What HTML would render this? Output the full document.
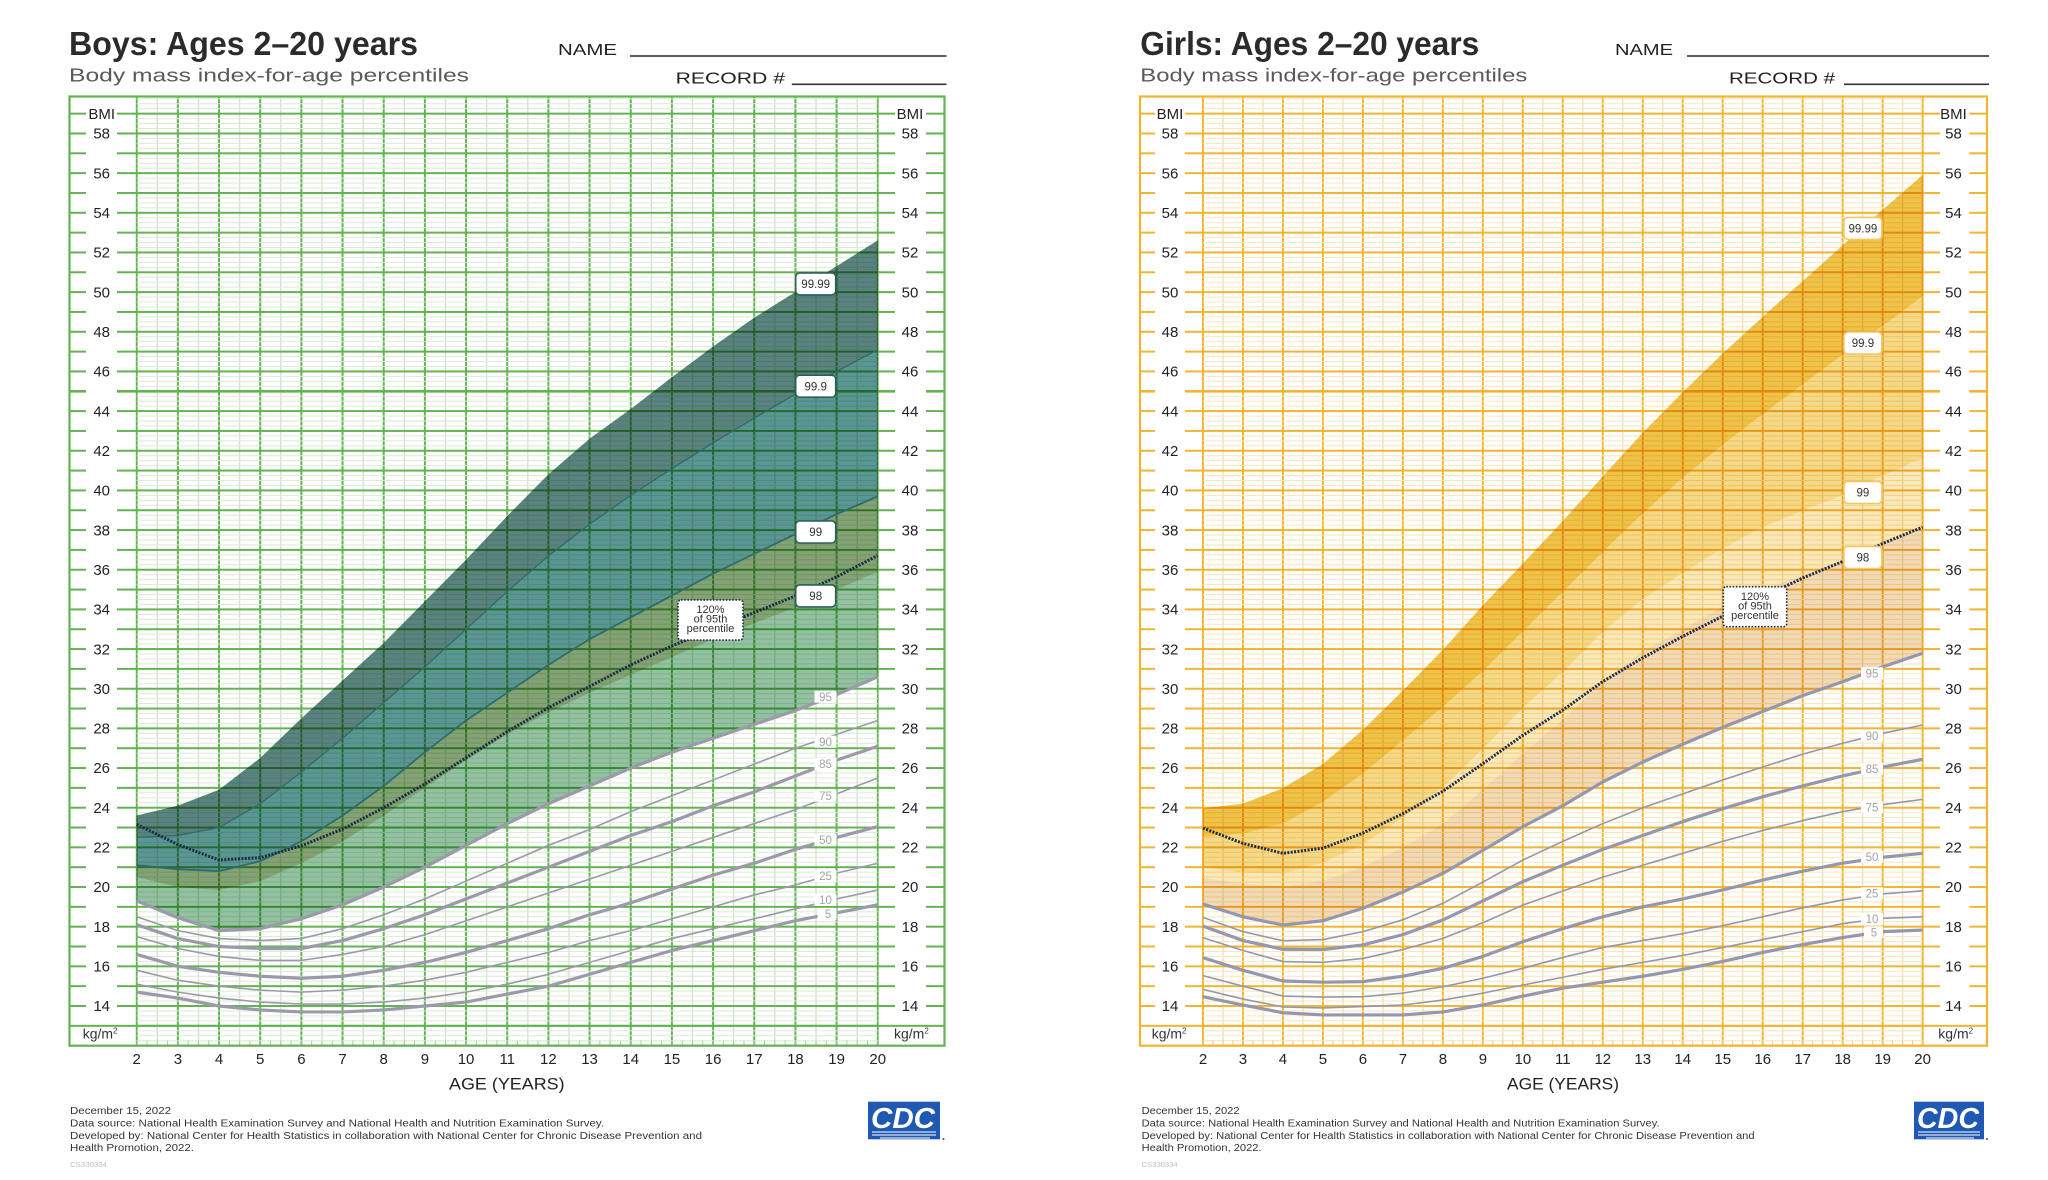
<!DOCTYPE html>
<html><head><meta charset="utf-8"><title>BMI-for-age percentiles</title>
<style>html,body{margin:0;padding:0;background:#fff;overflow:hidden}svg{display:block}</style></head>
<body>
<svg xmlns="http://www.w3.org/2000/svg" width="2048" height="1180" viewBox="0 0 2048 1180" font-family="'Liberation Sans', Arial, sans-serif">
<defs>
  <pattern id="bv" patternUnits="userSpaceOnUse" x="135.7" y="0" width="41.17" height="40">
    <rect x="0" y="0" width="2" height="40" fill="#62b450"/>
    <rect x="20.99" y="0" width="1.2" height="40" fill="#cddfc6"/>
  </pattern>
  <pattern id="bh" patternUnits="userSpaceOnUse" x="0" y="1005" width="40" height="19.83">
    <rect x="0" y="0" width="40" height="2" fill="#62b450"/>
    <rect x="0" y="5.46" width="40" height="1" fill="#dde9d8"/>
    <rect x="0" y="10.42" width="40" height="1" fill="#dde9d8"/>
    <rect x="0" y="15.37" width="40" height="1" fill="#dde9d8"/>
  </pattern>
  <pattern id="bm" patternUnits="userSpaceOnUse" x="0" y="1005" width="40" height="19.83">
    <rect x="0" y="0" width="40" height="2" fill="#62b450"/>
  </pattern>
  <pattern id="bt" patternUnits="userSpaceOnUse" x="136.2" y="1040.5" width="10.2925" height="5.2">
    <rect x="0" y="0" width="1" height="5.2" fill="#a9c9a0"/>
  </pattern>
  <pattern id="gv" patternUnits="userSpaceOnUse" x="1202" y="0" width="39.98" height="40">
    <rect x="0" y="0" width="2" height="40" fill="#f2b431"/>
    <rect x="20.39" y="0" width="1.2" height="40" fill="#ecdcb2"/>
  </pattern>
  <pattern id="gh" patternUnits="userSpaceOnUse" x="0" y="1005" width="40" height="19.83">
    <rect x="0" y="0" width="40" height="2" fill="#f2b431"/>
    <rect x="0" y="5.46" width="40" height="1" fill="#f6e7bb"/>
    <rect x="0" y="10.42" width="40" height="1" fill="#f6e7bb"/>
    <rect x="0" y="15.37" width="40" height="1" fill="#f6e7bb"/>
  </pattern>
  <pattern id="gm" patternUnits="userSpaceOnUse" x="0" y="1005" width="40" height="19.83">
    <rect x="0" y="0" width="40" height="2" fill="#f2b431"/>
  </pattern>
  <pattern id="gt" patternUnits="userSpaceOnUse" x="1202.5" y="1040.5" width="9.995" height="5.2">
    <rect x="0" y="0" width="1" height="5.2" fill="#e8c98a"/>
  </pattern>
</defs>

<rect width="2048" height="1180" fill="#fff"/>

<!-- ===== BANDS ===== -->
<g transform="matrix(41.17 0 0 -19.83 54.36 1283.62)">
  <polygon fill="#93c1a2" points="2,23.6 3,24.1 4,24.9 5,26.5 6,28.5 7,30.4 8,32.3 9,34.4 10,36.5 11,38.7 12,40.8 13,42.6 14,44.1 15,45.7 16,47.25 17,48.7 18,50 19,51.3 20,52.6 20,30.6 19,29.7 18,28.9 17,28.2 16,27.5 15,26.8 14,26 13,25.1 12,24.2 11,23.2 10,22.1 9,21 8,20 7,19.1 6,18.4 5,17.9 4,17.8 3,18.45 2,19.3"/>
  <polygon fill="#83a275" points="2,23.6 3,24.1 4,24.9 5,26.5 6,28.5 7,30.4 8,32.3 9,34.4 10,36.5 11,38.7 12,40.8 13,42.6 14,44.1 15,45.7 16,47.25 17,48.7 18,50 19,51.3 20,52.6 20,35.9 19,35 18,34.1 17,33.3 16,32.5 15,31.6 14,30.7 13,29.8 12,28.8 11,27.7 10,26.4 9,25 8,23.6 7,22.3 6,21.2 5,20.3 4,19.85 3,20 2,20.5"/>
  <polygon fill="#5a9694" points="2,23.6 3,24.1 4,24.9 5,26.5 6,28.5 7,30.4 8,32.3 9,34.4 10,36.5 11,38.7 12,40.8 13,42.6 14,44.1 15,45.7 16,47.25 17,48.7 18,50 19,51.3 20,52.6 20,39.7 19,38.8 18,37.8 17,36.8 16,35.8 15,34.7 14,33.6 13,32.5 12,31.2 11,29.8 10,28.4 9,26.8 8,25.1 7,23.6 6,22.3 5,21.3 4,20.8 3,20.9 2,21.1"/>
  <polygon fill="#5a8380" points="2,23.6 3,24.1 4,24.9 5,26.5 6,28.5 7,30.4 8,32.3 9,34.4 10,36.5 11,38.7 12,40.8 13,42.6 14,44.1 15,45.7 16,47.25 17,48.7 18,50 19,51.3 20,52.6 20,47.1 19,46 18,44.85 17,43.65 16,42.4 15,41.1 14,39.75 13,38.3 12,36.7 11,34.9 10,33 9,31.1 8,29.3 7,27.5 6,25.8 5,24.2 4,23 3,22.6 2,22.5"/>
</g>
<g transform="matrix(39.98 0 0 -19.83 1123.04 1283.62)">
  <polygon fill="#f2dab6" points="2,23.97 3,24.2 4,24.98 5,26.2 6,27.92 7,29.9 8,31.95 9,34.2 10,36.3 11,38.45 12,40.7 13,42.9 14,44.95 15,46.9 16,48.75 17,50.55 18,52.35 19,54.15 20,55.9 20,31.79 19,31.1 18,30.35 17,29.65 16,28.85 15,28.05 14,27.2 13,26.3 12,25.3 11,24.1 10,23.04 9,21.85 8,20.69 7,19.75 6,18.93 5,18.3 4,18.08 3,18.5 2,19.14"/>
  <polygon fill="#fae8b9" points="2,23.97 3,24.2 4,24.98 5,26.2 6,27.92 7,29.9 8,31.95 9,34.2 10,36.3 11,38.45 12,40.7 13,42.9 14,44.95 15,46.9 16,48.75 17,50.55 18,52.35 19,54.15 20,55.9 20,38.15 19,37.32 18,36.42 17,35.73 16,34.97 15,34.14 14,32.99 13,31.88 12,30.36 11,28.44 10,26.73 9,24.91 8,23.17 7,22.02 6,21.01 5,20.31 4,20.01 3,20.17 2,20.44"/>
  <polygon fill="#f6d987" points="2,23.97 3,24.2 4,24.98 5,26.2 6,27.92 7,29.9 8,31.95 9,34.2 10,36.3 11,38.45 12,40.7 13,42.9 14,44.95 15,46.9 16,48.75 17,50.55 18,52.35 19,54.15 20,55.9 20,41.64 19,40.74 18,39.76 17,38.99 16,38.15 15,37.09 14,35.84 13,34.52 12,32.89 11,30.85 10,29.03 9,26.98 8,25.03 7,23.5 6,22.15 5,21.23 4,20.68 3,20.72 2,21.02"/>
  <polygon fill="#efc248" points="2,23.97 3,24.2 4,24.98 5,26.2 6,27.92 7,29.9 8,31.95 9,34.2 10,36.3 11,38.45 12,40.7 13,42.9 14,44.95 15,46.9 16,48.75 17,50.55 18,52.35 19,54.15 20,55.9 20,49.8 19,48.3 18,46.85 17,45.35 16,43.85 15,42.3 14,40.65 13,38.85 12,36.9 11,34.9 10,32.9 9,30.9 8,29.09 7,27.4 6,25.73 5,24.3 4,23.21 3,22.7 2,22.54"/>
</g>

<!-- ===== GRIDS ===== -->
<g style="mix-blend-mode:multiply">
  <rect x="135.7" y="96.5" width="743.1" height="949.2" fill="url(#bv)"/>
  <rect x="136.7" y="96.5" width="741.06" height="949.2" fill="url(#bh)"/>
  <rect x="136.2" y="1040.5" width="742" height="5.2" fill="url(#bt)"/>
  <rect x="69.5" y="112" width="16.5" height="896" fill="url(#bm)"/>
  <rect x="117" y="112" width="19.7" height="896" fill="url(#bm)"/>
  <rect x="877.7" y="112" width="17.3" height="896" fill="url(#bm)"/>
  <rect x="926" y="112" width="18.5" height="896" fill="url(#bm)"/>
  <rect x="69.5" y="1024.83" width="875" height="2" fill="#62b450"/>
  <rect x="69.5" y="390" width="16.5" height="2.6" fill="#62b450"/>
  <rect x="117" y="390" width="778" height="2.6" fill="#62b450"/>
  <rect x="926" y="390" width="18.5" height="2.6" fill="#62b450"/>
  <rect x="69.5" y="96.5" width="875" height="949.2" fill="none" stroke="#62b450" stroke-width="2.2"/>
  <rect x="1202" y="96.5" width="722.64" height="949.2" fill="url(#gv)"/>
  <rect x="1203" y="96.5" width="719.64" height="949.2" fill="url(#gh)"/>
  <rect x="1202.5" y="1040.5" width="721" height="5.2" fill="url(#gt)"/>
  <rect x="1140" y="112" width="15" height="896" fill="url(#gm)"/>
  <rect x="1185" y="112" width="18" height="896" fill="url(#gm)"/>
  <rect x="1922.6" y="112" width="17.4" height="896" fill="url(#gm)"/>
  <rect x="1969.3" y="112" width="17.7" height="896" fill="url(#gm)"/>
  <rect x="1140" y="1024.83" width="847" height="2" fill="#f2b431"/>
  <rect x="1140" y="390" width="15" height="2.6" fill="#f2b431"/>
  <rect x="1185" y="390" width="755" height="2.6" fill="#f2b431"/>
  <rect x="1969.3" y="390" width="17.7" height="2.6" fill="#f2b431"/>
  <rect x="1140" y="96.5" width="847" height="949.2" fill="none" stroke="#f2b431" stroke-width="2.2"/>
</g>

<!-- ===== PERCENTILE LINES ===== -->
<g transform="matrix(41.17 0 0 -19.83 54.36 1283.62)" fill="none" stroke-linejoin="round">
  <polyline vector-effect="non-scaling-stroke" stroke="#2f6c69" stroke-width="1.3" points="2,22.5 3,22.6 4,23 5,24.2 6,25.8 7,27.5 8,29.3 9,31.1 10,33 11,34.9 12,36.7 13,38.3 14,39.75 15,41.1 16,42.4 17,43.65 18,44.85 19,46 20,47.1"/>
  <polyline vector-effect="non-scaling-stroke" stroke="#2f6c69" stroke-width="1.8" points="2,21.1 3,20.9 4,20.8 5,21.3 6,22.3 7,23.6 8,25.1 9,26.8 10,28.4 11,29.8 12,31.2 13,32.5 14,33.6 15,34.7 16,35.8 17,36.8 18,37.8 19,38.8 20,39.7"/>
  <g stroke="#9c99ab">
    <polyline vector-effect="non-scaling-stroke" stroke-width="3.2" points="2,19.3 3,18.45 4,17.8 5,17.9 6,18.4 7,19.1 8,20 9,21 10,22.1 11,23.2 12,24.2 13,25.1 14,26 15,26.8 16,27.5 17,28.2 18,28.9 19,29.7 20,30.6"/>
    <polyline vector-effect="non-scaling-stroke" stroke-width="1.6" points="2,18.5 3,17.8 4,17.4 5,17.3 6,17.4 7,17.9 8,18.6 9,19.4 10,20.3 11,21.2 12,22.1 13,22.9 14,23.8 15,24.6 16,25.4 17,26.2 18,27 19,27.7 20,28.4"/>
    <polyline vector-effect="non-scaling-stroke" stroke-width="3.2" points="2,18.1 3,17.4 4,17 5,16.9 6,16.9 7,17.3 8,17.9 9,18.6 10,19.4 11,20.2 12,21 13,21.8 14,22.6 15,23.3 16,24.1 17,24.8 18,25.6 19,26.4 20,27.1"/>
    <polyline vector-effect="non-scaling-stroke" stroke-width="1.6" points="2,17.5 3,16.9 4,16.5 5,16.3 6,16.3 7,16.6 8,17 9,17.6 10,18.3 11,19 12,19.7 13,20.4 14,21.1 15,21.8 16,22.5 17,23.2 18,23.9 19,24.7 20,25.5"/>
    <polyline vector-effect="non-scaling-stroke" stroke-width="3.2" points="2,16.6 3,16 4,15.7 5,15.5 6,15.4 7,15.5 8,15.8 9,16.2 10,16.7 11,17.3 12,17.9 13,18.6 14,19.2 15,19.9 16,20.6 17,21.2 18,21.9 19,22.5 20,23.05"/>
    <polyline vector-effect="non-scaling-stroke" stroke-width="1.6" points="2,15.8 3,15.3 4,15 5,14.8 6,14.7 7,14.8 8,15 9,15.3 10,15.7 11,16.2 12,16.7 13,17.3 14,17.8 15,18.4 16,19 17,19.6 18,20.1 19,20.7 20,21.2"/>
    <polyline vector-effect="non-scaling-stroke" stroke-width="1.6" points="2,15.1 3,14.7 4,14.4 5,14.2 6,14.1 7,14.1 8,14.2 9,14.4 10,14.7 11,15.1 12,15.6 13,16.2 14,16.8 15,17.4 16,17.9 17,18.4 18,18.9 19,19.4 20,19.85"/>
    <polyline vector-effect="non-scaling-stroke" stroke-width="3.2" points="2,14.7 3,14.4 4,14 5,13.8 6,13.7 7,13.7 8,13.8 9,14 10,14.2 11,14.6 12,15 13,15.6 14,16.2 15,16.8 16,17.3 17,17.8 18,18.3 19,18.7 20,19.1"/>
  </g>
</g>
<g transform="matrix(39.98 0 0 -19.83 1123.04 1283.62)" fill="none" stroke-linejoin="round" stroke="#9497ad">
  <polyline vector-effect="non-scaling-stroke" stroke-width="3.2" points="2,19.14 3,18.5 4,18.08 5,18.3 6,18.93 7,19.75 8,20.69 9,21.85 10,23.04 11,24.1 12,25.3 13,26.3 14,27.2 15,28.05 16,28.85 17,29.65 18,30.35 19,31.1 20,31.79"/>
  <polyline vector-effect="non-scaling-stroke" stroke-width="1.6" points="2,18.47 3,17.75 4,17.29 5,17.35 6,17.75 7,18.35 8,19.18 9,20.25 10,21.36 11,22.3 12,23.2 13,24 14,24.7 15,25.4 16,26.05 17,26.7 18,27.25 19,27.75 20,28.17"/>
  <polyline vector-effect="non-scaling-stroke" stroke-width="3.2" points="2,18.03 3,17.3 4,16.86 5,16.85 6,17.08 7,17.6 8,18.34 9,19.3 10,20.27 11,21.1 12,21.9 13,22.6 14,23.3 15,23.95 16,24.55 17,25.1 18,25.6 19,26.05 20,26.44"/>
  <polyline vector-effect="non-scaling-stroke" stroke-width="1.6" points="2,17.45 3,16.8 4,16.24 5,16.2 6,16.4 7,16.85 8,17.41 9,18.2 10,19.09 11,19.8 12,20.5 13,21.1 14,21.7 15,22.3 16,22.85 17,23.35 18,23.8 19,24.15 20,24.42"/>
  <polyline vector-effect="non-scaling-stroke" stroke-width="3.2" points="2,16.44 3,15.8 4,15.26 5,15.2 6,15.23 7,15.5 8,15.9 9,16.5 10,17.24 11,17.9 12,18.5 13,19 14,19.4 15,19.85 16,20.35 17,20.8 18,21.2 19,21.5 20,21.7"/>
  <polyline vector-effect="non-scaling-stroke" stroke-width="1.6" points="2,15.53 3,15 4,14.5 5,14.45 6,14.47 7,14.65 8,14.97 9,15.4 10,15.9 11,16.45 12,16.95 13,17.3 14,17.65 15,18.05 16,18.5 17,18.95 18,19.35 19,19.65 20,19.81"/>
  <polyline vector-effect="non-scaling-stroke" stroke-width="1.6" points="2,14.84 3,14.35 4,13.95 5,13.9 6,13.97 7,14.05 8,14.3 9,14.65 10,15.06 11,15.45 12,15.85 13,16.2 14,16.55 15,16.95 16,17.35 17,17.75 18,18.15 19,18.42 20,18.5"/>
  <polyline vector-effect="non-scaling-stroke" stroke-width="3.2" points="2,14.47 3,14.05 4,13.66 5,13.55 6,13.55 7,13.55 8,13.7 9,14.05 10,14.5 11,14.9 12,15.2 13,15.5 14,15.85 15,16.25 16,16.7 17,17.1 18,17.45 19,17.75 20,17.83"/>
</g>

<!-- dotted 120% of 95th -->
<polyline fill="none" stroke="#1c2b47" stroke-width="3" stroke-dasharray="2 1.4" stroke-linejoin="round" points="136.70,824.36 177.87,844.58 219.04,860.05 260.21,857.67 301.38,845.77 342.55,829.12 383.72,807.70 424.89,783.90 466.06,757.73 507.23,731.55 548.40,707.76 589.57,686.34 630.74,664.92 671.91,645.89 713.08,629.23 754.25,612.57 795.42,595.92 836.59,576.88 877.76,555.46"/>
<polyline fill="none" stroke="#1c2b47" stroke-width="3" stroke-dasharray="2 1.4" stroke-linejoin="round" points="1203.00,828.12 1242.98,843.39 1282.96,853.31 1322.94,848.15 1362.92,833.08 1402.90,813.65 1442.88,791.24 1482.86,763.68 1522.84,735.32 1562.82,710.14 1602.80,681.58 1642.78,657.79 1682.76,636.37 1722.74,616.14 1762.72,597.11 1802.70,578.07 1842.68,561.41 1882.66,543.56 1922.64,527.11"/>

<!-- ===== LOWER PERCENTILE LABELS ===== -->
<g font-size="11.5" fill="#a3a3a3" text-anchor="middle">
  <rect x="814.5" y="690.7" width="22" height="12" fill="#fff"/><text x="825.5" y="700.8">95</text>
  <rect x="814.5" y="735.7" width="22" height="12" fill="#fff"/><text x="825.5" y="745.8">90</text>
  <rect x="814.5" y="758" width="22" height="12" fill="#fff"/><text x="825.5" y="768.1">85</text>
  <rect x="814.5" y="789.7" width="22" height="12" fill="#fff"/><text x="825.5" y="799.8">75</text>
  <rect x="814.5" y="834" width="22" height="12" fill="#fff"/><text x="825.5" y="844.1">50</text>
  <rect x="814.5" y="870" width="22" height="12" fill="#fff"/><text x="825.5" y="880.1">25</text>
  <rect x="814.5" y="894" width="22" height="12" fill="#fff"/><text x="825.5" y="904.1">10</text>
  <rect x="817.5" y="908" width="19" height="12" fill="#fff"/><text x="828" y="918.1">5</text>

  <rect x="1861" y="667.3" width="22" height="12" fill="#fff"/><text x="1872" y="677.4">95</text>
  <rect x="1861" y="729.7" width="22" height="12" fill="#fff"/><text x="1872" y="739.8">90</text>
  <rect x="1861" y="763" width="22" height="12" fill="#fff"/><text x="1872" y="773.1">85</text>
  <rect x="1861" y="801.3" width="22" height="12" fill="#fff"/><text x="1872" y="811.4">75</text>
  <rect x="1861" y="850.7" width="22" height="12" fill="#fff"/><text x="1872" y="860.8">50</text>
  <rect x="1861" y="887.3" width="22" height="12" fill="#fff"/><text x="1872" y="897.4">25</text>
  <rect x="1861" y="913" width="22" height="12" fill="#fff"/><text x="1872" y="923.1">10</text>
  <rect x="1864" y="926.3" width="19" height="12" fill="#fff"/><text x="1874" y="936.4">5</text>
</g>

<!-- ===== UPPER LABEL BOXES ===== -->
<g font-size="11.5" fill="#333" text-anchor="middle">
  <rect x="795.7" y="272.9" width="40" height="22" rx="4" fill="#fff" stroke="#2c5f5c" stroke-width="1.6"/><text x="815.7" y="288">99.99</text>
  <rect x="795.7" y="375.2" width="40" height="22" rx="4" fill="#fff" stroke="#2c5f5c" stroke-width="1.6"/><text x="815.7" y="390.3">99.9</text>
  <rect x="795.7" y="521" width="40" height="22" rx="4" fill="#fff" stroke="#2c5f5c" stroke-width="1.6"/><text x="815.7" y="536.1">99</text>
  <rect x="795.7" y="584.9" width="40" height="22" rx="4" fill="#fff" stroke="#2c5f5c" stroke-width="1.6"/><text x="815.7" y="600">98</text>

  <rect x="1843.9" y="217.4" width="38" height="22" rx="4" fill="#fff" stroke="#f3c860" stroke-width="1.6"/><text x="1862.9" y="232.5">99.99</text>
  <rect x="1843.9" y="332" width="38" height="22" rx="4" fill="#fff" stroke="#f3c860" stroke-width="1.6"/><text x="1862.9" y="347.1">99.9</text>
  <rect x="1843.9" y="481.5" width="38" height="22" rx="4" fill="#fff" stroke="#f3c860" stroke-width="1.6"/><text x="1862.9" y="496.6">99</text>
  <rect x="1843.9" y="546.5" width="38" height="22" rx="4" fill="#fff" stroke="#f3c860" stroke-width="1.6"/><text x="1862.9" y="561.6">98</text>
</g>

<!-- 120% labels -->
<rect x="678" y="600" width="65" height="40" rx="3" fill="#fff" stroke="#1c2b47" stroke-width="1.6" stroke-dasharray="1.6 1.6"/>
<g font-size="11" fill="#333" text-anchor="middle">
  <text x="710.5" y="613">120%</text>
  <text x="710.5" y="622.5">of 95th</text>
  <text x="710.5" y="632">percentile</text>
</g>
<rect x="1723.3" y="586.7" width="63.4" height="40" rx="3" fill="#fff" stroke="#1c2b47" stroke-width="1.6" stroke-dasharray="1.6 1.6"/>
<g font-size="11" fill="#333" text-anchor="middle">
  <text x="1755" y="599.8">120%</text>
  <text x="1755" y="609.3">of 95th</text>
  <text x="1755" y="618.8">percentile</text>
</g>

<!-- ===== HEADERS ===== -->
<text x="69" y="55" font-family="'Liberation Sans Narrow','Liberation Sans',Arial,sans-serif" font-weight="bold" font-size="33" textLength="349" lengthAdjust="spacingAndGlyphs" fill="#2b2b2b">Boys: Ages 2–20 years</text>
<text x="69" y="81.5" font-size="18.5" textLength="400" lengthAdjust="spacingAndGlyphs" fill="#5a5a5a">Body mass index-for-age percentiles</text>
<text x="558" y="55" font-size="16" textLength="59" lengthAdjust="spacingAndGlyphs" fill="#222">NAME</text>
<rect x="630" y="55.2" width="316.5" height="1.6" fill="#333"/>
<text x="675.6" y="83.3" font-size="16" textLength="109.4" lengthAdjust="spacingAndGlyphs" fill="#222">RECORD #</text>
<rect x="791.8" y="83.5" width="154.7" height="1.6" fill="#333"/>

<text x="1140.3" y="55" font-family="'Liberation Sans Narrow','Liberation Sans',Arial,sans-serif" font-weight="bold" font-size="33" textLength="339" lengthAdjust="spacingAndGlyphs" fill="#2b2b2b">Girls: Ages 2–20 years</text>
<text x="1140.3" y="81.5" font-size="18.5" textLength="387" lengthAdjust="spacingAndGlyphs" fill="#5a5a5a">Body mass index-for-age percentiles</text>
<text x="1615" y="55" font-size="16" textLength="58" lengthAdjust="spacingAndGlyphs" fill="#222">NAME</text>
<rect x="1687" y="55.2" width="302" height="1.6" fill="#333"/>
<text x="1729" y="83.3" font-size="16" textLength="106" lengthAdjust="spacingAndGlyphs" fill="#222">RECORD #</text>
<rect x="1844" y="83.5" width="145" height="1.6" fill="#333"/>

<!-- ===== BMI AXIS LABELS ===== -->
<g font-size="15" fill="#222" text-anchor="middle">
  <text x="101.7" y="118.9">BMI</text>
  <text x="101.7" y="138.7">58</text><text x="101.7" y="178.3">56</text><text x="101.7" y="218">54</text><text x="101.7" y="257.7">52</text>
  <text x="101.7" y="297.3">50</text><text x="101.7" y="337">48</text><text x="101.7" y="376.6">46</text><text x="101.7" y="416.3">44</text>
  <text x="101.7" y="456">42</text><text x="101.7" y="495.6">40</text><text x="101.7" y="535.3">38</text><text x="101.7" y="574.9">36</text>
  <text x="101.7" y="614.6">34</text><text x="101.7" y="654.3">32</text><text x="101.7" y="693.9">30</text><text x="101.7" y="733.6">28</text>
  <text x="101.7" y="773.2">26</text><text x="101.7" y="812.9">24</text><text x="101.7" y="852.6">22</text><text x="101.7" y="892.2">20</text>
  <text x="101.7" y="931.9">18</text><text x="101.7" y="971.5">16</text><text x="101.7" y="1011.2">14</text>
  <text x="910" y="118.9">BMI</text>
  <text x="910" y="138.7">58</text><text x="910" y="178.3">56</text><text x="910" y="218">54</text><text x="910" y="257.7">52</text>
  <text x="910" y="297.3">50</text><text x="910" y="337">48</text><text x="910" y="376.6">46</text><text x="910" y="416.3">44</text>
  <text x="910" y="456">42</text><text x="910" y="495.6">40</text><text x="910" y="535.3">38</text><text x="910" y="574.9">36</text>
  <text x="910" y="614.6">34</text><text x="910" y="654.3">32</text><text x="910" y="693.9">30</text><text x="910" y="733.6">28</text>
  <text x="910" y="773.2">26</text><text x="910" y="812.9">24</text><text x="910" y="852.6">22</text><text x="910" y="892.2">20</text>
  <text x="910" y="931.9">18</text><text x="910" y="971.5">16</text><text x="910" y="1011.2">14</text>
  <text x="1170" y="118.9">BMI</text>
  <text x="1170" y="138.7">58</text><text x="1170" y="178.3">56</text><text x="1170" y="218">54</text><text x="1170" y="257.7">52</text>
  <text x="1170" y="297.3">50</text><text x="1170" y="337">48</text><text x="1170" y="376.6">46</text><text x="1170" y="416.3">44</text>
  <text x="1170" y="456">42</text><text x="1170" y="495.6">40</text><text x="1170" y="535.3">38</text><text x="1170" y="574.9">36</text>
  <text x="1170" y="614.6">34</text><text x="1170" y="654.3">32</text><text x="1170" y="693.9">30</text><text x="1170" y="733.6">28</text>
  <text x="1170" y="773.2">26</text><text x="1170" y="812.9">24</text><text x="1170" y="852.6">22</text><text x="1170" y="892.2">20</text>
  <text x="1170" y="931.9">18</text><text x="1170" y="971.5">16</text><text x="1170" y="1011.2">14</text>
  <text x="1953.5" y="118.9">BMI</text>
  <text x="1953.5" y="138.7">58</text><text x="1953.5" y="178.3">56</text><text x="1953.5" y="218">54</text><text x="1953.5" y="257.7">52</text>
  <text x="1953.5" y="297.3">50</text><text x="1953.5" y="337">48</text><text x="1953.5" y="376.6">46</text><text x="1953.5" y="416.3">44</text>
  <text x="1953.5" y="456">42</text><text x="1953.5" y="495.6">40</text><text x="1953.5" y="535.3">38</text><text x="1953.5" y="574.9">36</text>
  <text x="1953.5" y="614.6">34</text><text x="1953.5" y="654.3">32</text><text x="1953.5" y="693.9">30</text><text x="1953.5" y="733.6">28</text>
  <text x="1953.5" y="773.2">26</text><text x="1953.5" y="812.9">24</text><text x="1953.5" y="852.6">22</text><text x="1953.5" y="892.2">20</text>
  <text x="1953.5" y="931.9">18</text><text x="1953.5" y="971.5">16</text><text x="1953.5" y="1011.2">14</text>
</g>

<!-- kg/m2 -->
<g font-size="14" fill="#333">
  <text x="82.7" y="1038.5">kg/m<tspan font-size="8" dy="-5">2</tspan></text>
  <text x="894" y="1038.5">kg/m<tspan font-size="8" dy="-5">2</tspan></text>
  <text x="1151.7" y="1038.5">kg/m<tspan font-size="8" dy="-5">2</tspan></text>
  <text x="1938.3" y="1038.5">kg/m<tspan font-size="8" dy="-5">2</tspan></text>
</g>

<!-- ===== AGE AXIS ===== -->
<g font-size="15" fill="#222" text-anchor="middle">
  <text x="136.70" y="1064">2</text><text x="177.87" y="1064">3</text><text x="219.04" y="1064">4</text><text x="260.21" y="1064">5</text>
  <text x="301.38" y="1064">6</text><text x="342.55" y="1064">7</text><text x="383.72" y="1064">8</text><text x="424.89" y="1064">9</text>
  <text x="466.06" y="1064">10</text><text x="507.23" y="1064">11</text><text x="548.40" y="1064">12</text><text x="589.57" y="1064">13</text>
  <text x="630.74" y="1064">14</text><text x="671.91" y="1064">15</text><text x="713.08" y="1064">16</text><text x="754.25" y="1064">17</text>
  <text x="795.42" y="1064">18</text><text x="836.59" y="1064">19</text><text x="877.76" y="1064">20</text>
  <text x="1203.00" y="1064">2</text><text x="1242.98" y="1064">3</text><text x="1282.96" y="1064">4</text><text x="1322.94" y="1064">5</text>
  <text x="1362.92" y="1064">6</text><text x="1402.90" y="1064">7</text><text x="1442.88" y="1064">8</text><text x="1482.86" y="1064">9</text>
  <text x="1522.84" y="1064">10</text><text x="1562.82" y="1064">11</text><text x="1602.80" y="1064">12</text><text x="1642.78" y="1064">13</text>
  <text x="1682.76" y="1064">14</text><text x="1722.74" y="1064">15</text><text x="1762.72" y="1064">16</text><text x="1802.70" y="1064">17</text>
  <text x="1842.68" y="1064">18</text><text x="1882.66" y="1064">19</text><text x="1922.64" y="1064">20</text>
</g>
<text x="449" y="1089.3" font-size="16.5" fill="#222" textLength="115.6" lengthAdjust="spacingAndGlyphs">AGE (YEARS)</text>
<text x="1507" y="1089.3" font-size="16.5" fill="#222" textLength="112" lengthAdjust="spacingAndGlyphs">AGE (YEARS)</text>

<!-- ===== FOOTERS ===== -->
<g font-size="10" fill="#333">
  <text x="70" y="1114" textLength="101" lengthAdjust="spacingAndGlyphs">December 15, 2022</text>
  <text x="70" y="1126.5" textLength="534" lengthAdjust="spacingAndGlyphs">Data source: National Health Examination Survey and National Health and Nutrition Examination Survey.</text>
  <text x="70" y="1139" textLength="632" lengthAdjust="spacingAndGlyphs">Developed by: National Center for Health Statistics in collaboration with National Center for Chronic Disease Prevention and</text>
  <text x="70" y="1151" textLength="124" lengthAdjust="spacingAndGlyphs">Health Promotion, 2022.</text>
  <text x="1141.6" y="1114" textLength="98" lengthAdjust="spacingAndGlyphs">December 15, 2022</text>
  <text x="1141.6" y="1126.5" textLength="518" lengthAdjust="spacingAndGlyphs">Data source: National Health Examination Survey and National Health and Nutrition Examination Survey.</text>
  <text x="1141.6" y="1139" textLength="613" lengthAdjust="spacingAndGlyphs">Developed by: National Center for Health Statistics in collaboration with National Center for Chronic Disease Prevention and</text>
  <text x="1141.6" y="1151" textLength="120" lengthAdjust="spacingAndGlyphs">Health Promotion, 2022.</text>
</g>
<text x="70" y="1167" font-size="7" fill="#c0c0c0" textLength="37" lengthAdjust="spacingAndGlyphs">CS330334</text>
<text x="1141.6" y="1167" font-size="7" fill="#c0c0c0" textLength="36" lengthAdjust="spacingAndGlyphs">CS330334</text>

<!-- CDC logos -->
<g>
  <rect x="868" y="1101.7" width="72" height="37.6" fill="#2059b3"/>
  <text x="871" y="1128" font-size="29" font-weight="bold" font-style="italic" fill="#fff" textLength="64" lengthAdjust="spacingAndGlyphs">CDC</text>
  <g stroke="#fff" stroke-width="1">
    <line x1="872" y1="1132" x2="936" y2="1132"/>
    <line x1="872" y1="1135" x2="936" y2="1135"/>
    <line x1="880" y1="1138" x2="930" y2="1138"/>
  </g>
  <circle cx="943.5" cy="1139" r="1" fill="#2059b3"/>
</g>
<g>
  <rect x="1914" y="1101.7" width="70" height="37.6" fill="#2059b3"/>
  <text x="1917" y="1128" font-size="29" font-weight="bold" font-style="italic" fill="#fff" textLength="62" lengthAdjust="spacingAndGlyphs">CDC</text>
  <g stroke="#fff" stroke-width="1">
    <line x1="1918" y1="1132" x2="1980" y2="1132"/>
    <line x1="1918" y1="1135" x2="1980" y2="1135"/>
    <line x1="1926" y1="1138" x2="1974" y2="1138"/>
  </g>
  <circle cx="1987" cy="1139" r="1" fill="#2059b3"/>
</g>
</svg>
</body></html>
